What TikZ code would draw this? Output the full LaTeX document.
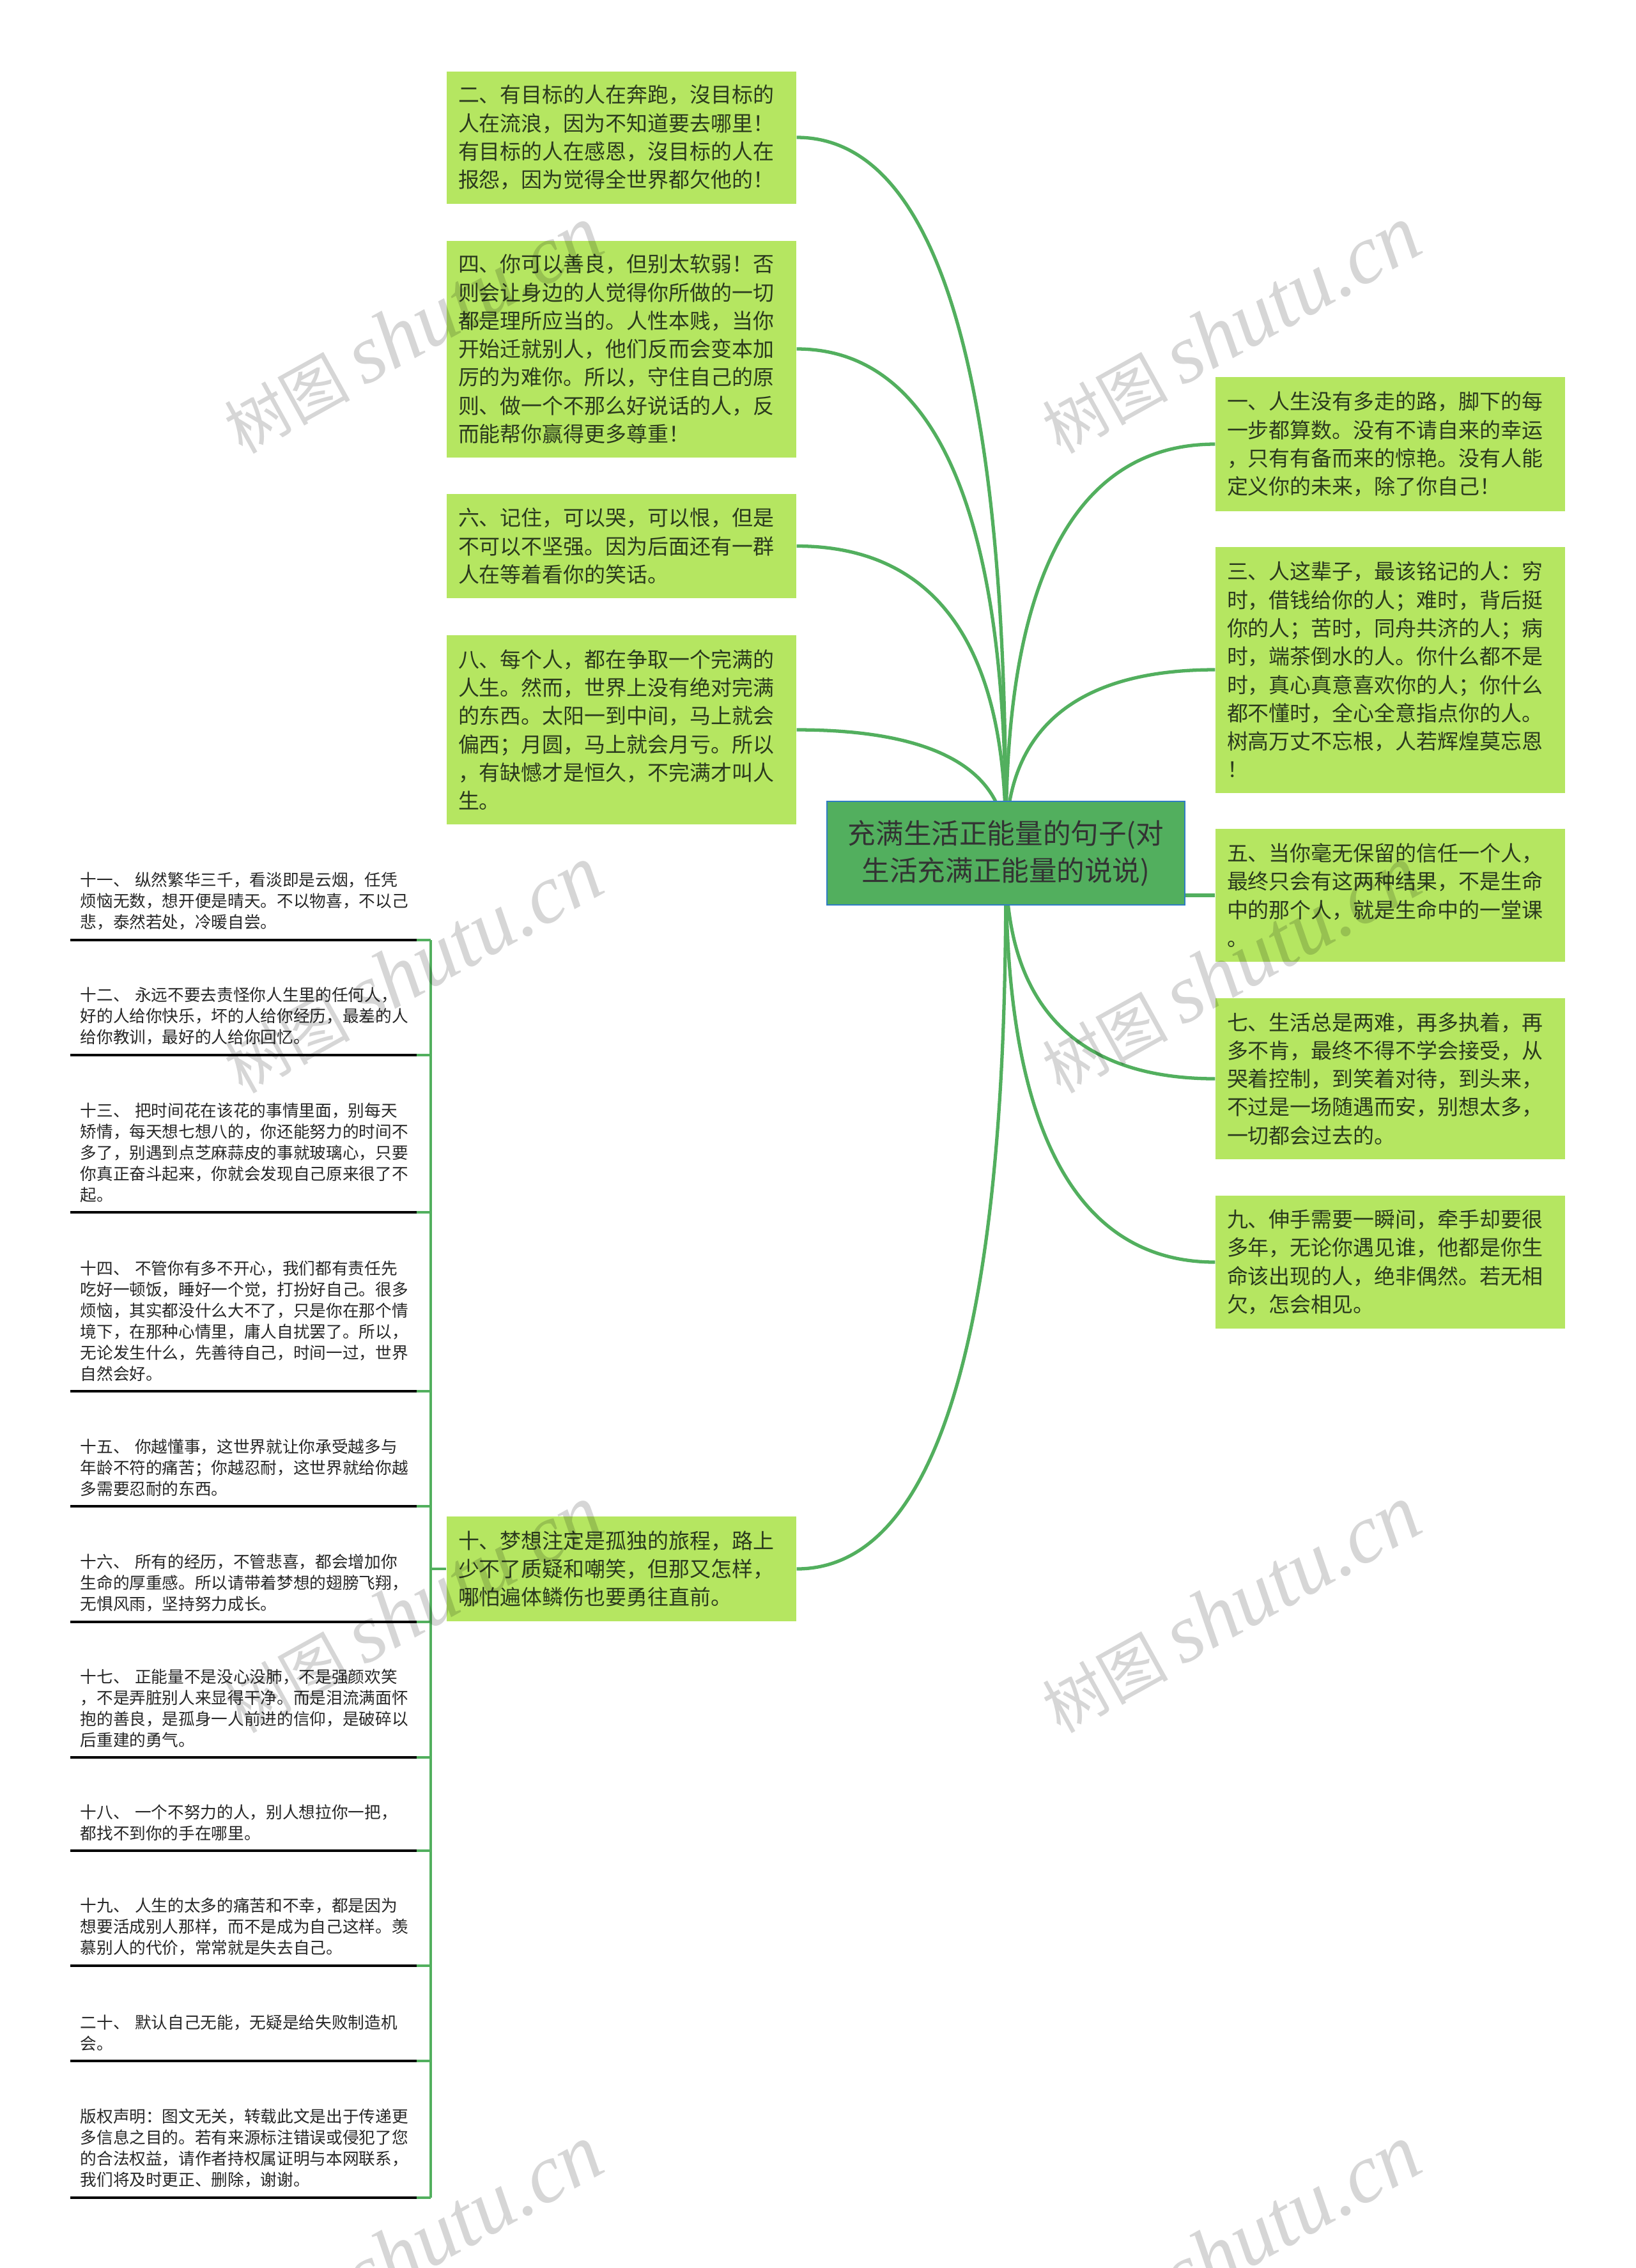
\documentclass[tikz,border=0pt]{standalone}
\usepackage{fontspec}
\setmainfont{Noto Sans CJK SC}
\newfontfamily\markfont{Liberation Serif}
\usetikzlibrary{backgrounds}
\definecolor{leafgreen}{HTML}{B5E661}
\definecolor{rootgreen}{HTML}{52AF5E}
\definecolor{rootblue}{HTML}{2F7CC4}
\definecolor{twiggreen}{HTML}{52AF5E}
\definecolor{leafink}{HTML}{2B3A1E}

\begin{document}
\begin{tikzpicture}[
    leaf/.style={fill=leafgreen,text=leafink,align=left,text width=5.11cm,inner xsep=.18cm,inner ysep=0pt,
      font=\fontsize{9.38}{12.6}\selectfont},
    root/.style={fill=rootgreen,draw=rootblue,line width=.8pt,text=black!80,align=center,text width=5.4cm,inner xsep=0pt,inner ysep=0pt,
      font=\fontsize{12.4}{16.5}\selectfont},
    note/.style={anchor=south west,align=left,text width=5.11cm,inner xsep=.15cm,inner ysep=.15cm,text=black!85,
      font=\fontsize{7.3}{9.39}\selectfont},
    twig/.style={draw=twiggreen,line width=1.5pt},
    stub/.style={draw=twiggreen,line width=1pt},
    rule/.style={draw=black,line width=1pt},
    curl/.style n args={3}{out=#1,in=#2,out min distance=3.26cm,out max distance=3.26cm,in min distance=#3,in max distance=#3},
    stamp/.style={black,opacity=.16,rotate=29,font=\fontsize{28}{28}\selectfont}
  ]
    \useasboundingbox (0,0) rectangle (25.60,-35.49);

    \node[root,minimum width=5.6cm,minimum height=1.62cm] (root) at (15.74,-13.35) {充满生活正能量的句子(对\\生活充满正能量的说说)};

    \node[leaf,minimum height=2.07cm] (n2) at (9.725,-2.15) {二、有目标的人在奔跑，沒目标的\\人在流浪，因为不知道要去哪里！\\有目标的人在感恩，沒目标的人在\\报怨，因为觉得全世界都欠他的！};
    \node[leaf,minimum height=3.39cm] (n4) at (9.725,-5.46) {四、你可以善良，但别太软弱！否\\则会让身边的人觉得你所做的一切\\都是理所应当的。人性本贱，当你\\开始迁就别人，他们反而会变本加\\厉的为难你。所以，守住自己的原\\则、做一个不那么好说话的人，反\\而能帮你赢得更多尊重！};
    \node[leaf,minimum height=1.63cm] (n6) at (9.725,-8.545) {六、记住，可以哭，可以恨，但是\\不可以不坚强。因为后面还有一群\\人在等着看你的笑话。};
    \node[leaf,minimum height=2.96cm] (n8) at (9.725,-11.42) {八、每个人，都在争取一个完满的\\人生。然而，世界上没有绝对完满\\的东西。太阳一到中间，马上就会\\偏西；月圆，马上就会月亏。所以\\，有缺憾才是恒久，不完满才叫人\\生。};
    \node[leaf,minimum height=1.64cm] (n10) at (9.725,-24.55) {十、梦想注定是孤独的旅程，路上\\少不了质疑和嘲笑，但那又怎样，\\哪怕遍体鳞伤也要勇往直前。};

    \node[leaf,minimum height=2.10cm] (n1) at (21.755,-6.95) {一、人生没有多走的路，脚下的每\\一步都算数。没有不请自来的幸运\\，只有有备而来的惊艳。没有人能\\定义你的未来，除了你自己！};
    \node[leaf,minimum height=3.85cm] (n3) at (21.755,-10.48) {三、人这辈子，最该铭记的人：穷\\时，借钱给你的人；难时，背后挺\\你的人；苦时，同舟共济的人；病\\时，端茶倒水的人。你什么都不是\\时，真心真意喜欢你的人；你什么\\都不懂时，全心全意指点你的人。\\树高万丈不忘根，人若辉煌莫忘恩\\！};
    \node[leaf,minimum height=2.08cm] (n5) at (21.755,-14.01) {五、当你毫无保留的信任一个人，\\最终只会有这两种结果，不是生命\\中的那个人，就是生命中的一堂课\\。};
    \node[leaf,minimum height=2.52cm] (n7) at (21.755,-16.88) {七、生活总是两难，再多执着，再\\多不肯，最终不得不学会接受，从\\哭着控制，到笑着对待，到头来，\\不过是一场随遇而安，别想太多，\\一切都会过去的。};
    \node[leaf,minimum height=2.08cm] (n9) at (21.755,-19.75) {九、伸手需要一瞬间，牵手却要很\\多年，无论你遇见谁，他都是你生\\命该出现的人，绝非偶然。若无相\\欠，怎会相见。};

    \node[note] (t11) at (1.10,-14.71) {十一、 纵然繁华三千，看淡即是云烟，任凭\\烦恼无数，想开便是晴天。不以物喜，不以己\\悲，泰然若处，冷暖自尝。};
    \node[note] (t12) at (1.10,-16.51) {十二、 永远不要去责怪你人生里的任何人，\\好的人给你快乐，坏的人给你经历，最差的人\\给你教训，最好的人给你回忆。};
    \node[note] (t13) at (1.10,-18.97) {十三、 把时间花在该花的事情里面，别每天\\矫情，每天想七想八的，你还能努力的时间不\\多了，别遇到点芝麻蒜皮的事就玻璃心，只要\\你真正奋斗起来，你就会发现自己原来很了不\\起。};
    \node[note] (t14) at (1.10,-21.77) {十四、 不管你有多不开心，我们都有责任先\\吃好一顿饭，睡好一个觉，打扮好自己。很多\\烦恼，其实都没什么大不了，只是你在那个情\\境下，在那种心情里，庸人自扰罢了。所以，\\无论发生什么，先善待自己，时间一过，世界\\自然会好。};
    \node[note] (t15) at (1.10,-23.57) {十五、 你越懂事，这世界就让你承受越多与\\年龄不符的痛苦；你越忍耐，这世界就给你越\\多需要忍耐的东西。};
    \node[note] (t16) at (1.10,-25.38) {十六、 所有的经历，不管悲喜，都会增加你\\生命的厚重感。所以请带着梦想的翅膀飞翔，\\无惧风雨，坚持努力成长。};
    \node[note] (t17) at (1.10,-27.50) {十七、 正能量不是没心没肺，不是强颜欢笑\\，不是弄脏别人来显得干净。而是泪流满面怀\\抱的善良，是孤身一人前进的信仰，是破碎以\\后重建的勇气。};
    \node[note] (t18) at (1.10,-28.96) {十八、 一个不努力的人，别人想拉你一把，\\都找不到你的手在哪里。};
    \node[note] (t19) at (1.10,-30.76) {十九、 人生的太多的痛苦和不幸，都是因为\\想要活成别人那样，而不是成为自己这样。羡\\慕别人的代价，常常就是失去自己。};
    \node[note] (t20) at (1.10,-32.25) {二十、 默认自己无能，无疑是给失败制造机\\会。};
    \node[note] (t21) at (1.10,-34.39) {版权声明：图文无关，转载此文是出于传递更\\多信息之目的。若有来源标注错误或侵犯了您\\的合法权益，请作者持权属证明与本网联系，\\我们将及时更正、删除，谢谢。};

    \coordinate (bus) at (6.74,-14.71);
    \coordinate (busend) at (6.74,-34.39);

    \begin{scope}[on background layer]
      \path[-] (n2.east) edge[twig,curl={0}{90}{3.02cm}] (root.center);
      \path[-] (n4.east) edge[twig,curl={0}{90}{2.13cm}] (root.center);
      \path[-] (n6.east) edge[twig,curl={0}{90}{1.30cm}] (root.center);
      \path[-] (n8.east) edge[twig,curl={0}{90}{.52cm}] (root.center);
      \path[-] (n10.east) edge[twig,curl={0}{-90}{3.02cm}] (root.center);
      \path[-] (n1.west) edge[twig,curl={180}{90}{1.73cm}] (root.center);
      \path[-] (n3.west) edge[twig,curl={180}{90}{.78cm}] (root.center);
      \path[-] (n7.west) edge[twig,curl={180}{-90}{.95cm}] (root.center);
      \path[-] (n9.west) edge[twig,curl={180}{-90}{1.73cm}] (root.center);
    \end{scope}
    \path[-] (n5.west) edge[twig] (n5.west -| root.east);

    \path[-] (bus) edge[stub] (busend);
    \path[-] (n10.west) edge[stub] (n10.west -| bus);

    \path[-] (t11.south west) edge[rule] (t11.south east);
    \path[-] (t12.south west) edge[rule] (t12.south east);
    \path[-] (t13.south west) edge[rule] (t13.south east);
    \path[-] (t14.south west) edge[rule] (t14.south east);
    \path[-] (t15.south west) edge[rule] (t15.south east);
    \path[-] (t16.south west) edge[rule] (t16.south east);
    \path[-] (t17.south west) edge[rule] (t17.south east);
    \path[-] (t18.south west) edge[rule] (t18.south east);
    \path[-] (t19.south west) edge[rule] (t19.south east);
    \path[-] (t20.south west) edge[rule] (t20.south east);
    \path[-] (t21.south west) edge[rule] (t21.south east);

    \path[-] (t11.south east) edge[stub] (t11.south east -| bus);
    \path[-] (t12.south east) edge[stub] (t12.south east -| bus);
    \path[-] (t13.south east) edge[stub] (t13.south east -| bus);
    \path[-] (t14.south east) edge[stub] (t14.south east -| bus);
    \path[-] (t15.south east) edge[stub] (t15.south east -| bus);
    \path[-] (t16.south east) edge[stub] (t16.south east -| bus);
    \path[-] (t17.south east) edge[stub] (t17.south east -| bus);
    \path[-] (t18.south east) edge[stub] (t18.south east -| bus);
    \path[-] (t19.south east) edge[stub] (t19.south east -| bus);
    \path[-] (t20.south east) edge[stub] (t20.south east -| bus);
    \path[-] (t21.south east) edge[stub] (t21.south east -| bus);

    % watermark
    \node[stamp] (w1) at (6.46,-5.16) {树图 {\markfont\itshape\fontsize{37}{37}\selectfont shutu.cn}};
    \node[stamp] (w2) at (19.26,-5.16) {树图 {\markfont\itshape\fontsize{37}{37}\selectfont shutu.cn}};
    \node[stamp] (w3) at (6.46,-15.17) {树图 {\markfont\itshape\fontsize{37}{37}\selectfont shutu.cn}};
    \node[stamp] (w4) at (19.26,-15.17) {树图 {\markfont\itshape\fontsize{37}{37}\selectfont shutu.cn}};
    \node[stamp] (w5) at (6.46,-25.18) {树图 {\markfont\itshape\fontsize{37}{37}\selectfont shutu.cn}};
    \node[stamp] (w6) at (19.26,-25.18) {树图 {\markfont\itshape\fontsize{37}{37}\selectfont shutu.cn}};
    \node[stamp] (w7) at (6.46,-35.19) {树图 {\markfont\itshape\fontsize{37}{37}\selectfont shutu.cn}};
    \node[stamp] (w8) at (19.26,-35.19) {树图 {\markfont\itshape\fontsize{37}{37}\selectfont shutu.cn}};
  \end{tikzpicture}
\end{document}
